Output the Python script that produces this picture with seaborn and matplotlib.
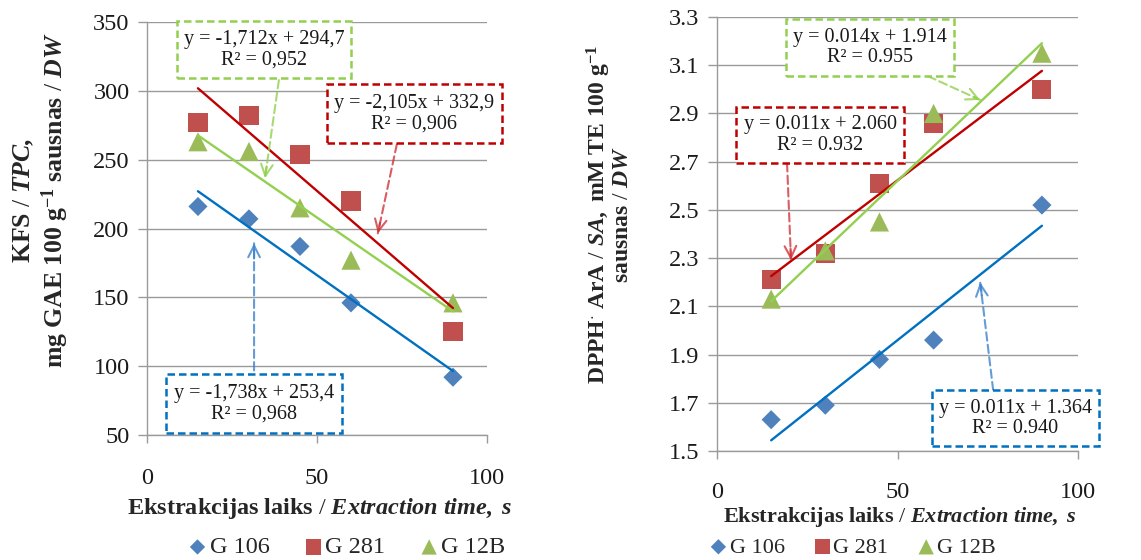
import numpy as np
import pandas as pd
import matplotlib
matplotlib.use("Agg")
import matplotlib.pyplot as plt
from matplotlib.patches import Rectangle
from matplotlib.ticker import FormatStrFormatter
import seaborn as sns

# ---------------- data ----------------
time_s = [15, 30, 45, 60, 90]
varieties = ["G 106", "G 281", "G 12B"]

tpc_g106 = [216, 207, 187, 146, 92]
tpc_g281 = [277, 282, 254, 220, 125]
tpc_g12b = [263, 256, 215, 177, 146]

dpph_g106 = [1.63, 1.69, 1.88, 1.96, 2.52]
dpph_g281 = [2.21, 2.32, 2.61, 2.86, 3.00]
dpph_g12b = [2.13, 2.33, 2.45, 2.90, 3.15]

tpc_eq = ["y = -1,738x + 253,4\nR² = 0,968",
          "y = -2,105x + 332,9\nR² = 0,906",
          "y = -1,712x + 294,7\nR² = 0,952"]
dpph_eq = ["y = 0.011x + 1.364\nR² = 0.940",
           "y = 0.011x + 2.060\nR² = 0.932",
           "y = 0.014x + 1.914\nR² = 0.955"]

tpc_yticks = [50, 100, 150, 200, 250, 300, 350]
dpph_yticks = [1.5, 1.7, 1.9, 2.1, 2.3, 2.5, 2.7, 2.9, 3.1, 3.3]
x_ticks = [0, 50, 100]

# ---------------- style ----------------
sns.set_theme(style="white")
plt.rcParams["font.family"] = ["Liberation Serif", "DejaVu Serif"]
plt.rcParams["mathtext.fontset"] = "custom"
plt.rcParams["mathtext.rm"] = "Liberation Serif"
plt.rcParams["mathtext.bf"] = "Liberation Serif:bold"
plt.rcParams["mathtext.it"] = "Liberation Serif:italic"
plt.rcParams["mathtext.bfit"] = "Liberation Serif:italic:bold"

marker_colors = {"G 106": "#4F81BD", "G 281": "#C0504D", "G 12B": "#9BBB59"}
line_colors = {"G 106": "#0070C0", "G 281": "#C00000", "G 12B": "#92D050"}
markers = {"G 106": "D", "G 281": "s", "G 12B": "^"}
msizes = {"G 106": 95, "G 281": 190, "G 12B": 190}


def long_df(vals):
    rows = []
    for v, ys in zip(varieties, vals):
        for t, y in zip(time_s, ys):
            rows.append({"time": t, "value": y, "variety": v})
    return pd.DataFrame(rows)


df_tpc = long_df([tpc_g106, tpc_g281, tpc_g12b])
df_dpph = long_df([dpph_g106, dpph_g281, dpph_g12b])

fig = plt.figure(figsize=(11.41, 5.6), dpi=100)
axL = fig.add_axes([0.1288, 0.2232, 0.2980, 0.7375])
axR = fig.add_axes([0.6284, 0.1946, 0.3164, 0.7750])

grid_col = "#9A9A9A"


def draw(ax, df, ylim, yticks, fmt, xpad):
    for v in varieties:
        sub = df[df["variety"] == v]
        sns.scatterplot(data=sub, x="time", y="value", marker=markers[v],
                        color=marker_colors[v], s=msizes[v], edgecolor="none",
                        linewidth=0, label=v, ax=ax, zorder=3)
    for v in varieties:
        sub = df[df["variety"] == v]
        sns.regplot(data=sub, x="time", y="value", scatter=False, ci=None,
                    truncate=True, color=line_colors[v],
                    line_kws=dict(lw=1.7, zorder=4), ax=ax)
    ax.set_xlim(0, 100)
    ax.set_ylim(*ylim)
    ax.set_xticks(x_ticks)
    ax.set_yticks(yticks)
    ax.yaxis.set_major_formatter(FormatStrFormatter(fmt))
    ax.grid(axis="y", color=grid_col, lw=1.0)
    ax.set_axisbelow(True)
    for s in ["top", "right"]:
        ax.spines[s].set_visible(False)
    for s in ["left", "bottom"]:
        ax.spines[s].set_color(grid_col)
        ax.spines[s].set_linewidth(1.0)
    ax.tick_params(axis="y", direction="out", length=6.5, width=1.0,
                   color=grid_col, left=True, pad=6, labelsize=17.5)
    ax.tick_params(axis="x", direction="out", length=6, width=1.0,
                   color=grid_col, bottom=True, pad=xpad, labelsize=17.5)
    for lbl in ax.get_xticklabels() + ax.get_yticklabels():
        lbl.set_color("#1a1a1a")


def box(ax, x0, x1, y0, y1, text, color, fs=14.5):
    ax.add_patch(Rectangle((x0, y0), x1 - x0, y1 - y0, fill=True,
                           facecolor="white", edgecolor=color, lw=1.8,
                           ls=(0, (3, 1.6)), clip_on=False, zorder=6))
    ax.text((x0 + x1) / 2, (y0 + y1) / 2, text, ha="center", va="center",
            fontsize=fs, color="#1a1a1a", linespacing=1.1, zorder=7,
            clip_on=False)


def arrow(ax, start, tip, color):
    ax.annotate("", xy=tip, xytext=start,
                arrowprops=dict(arrowstyle="-", color=color, lw=1.5,
                                ls=(0, (4, 2)), shrinkA=0, shrinkB=0,
                                alpha=0.8), zorder=5)
    dx = tip[0] - start[0]
    dy = tip[1] - start[1]
    pre = (tip[0] - dx * 0.12, tip[1] - dy * 0.12)
    ax.annotate("", xy=tip, xytext=pre,
                arrowprops=dict(arrowstyle="->,head_length=0.7,head_width=0.35",
                                color=color, lw=1.5, shrinkA=0, shrinkB=0,
                                alpha=0.8), zorder=5)


# ---------------- left panel ----------------
draw(axL, df_tpc, (50, 350), tpc_yticks, "%d", 18)
axL.set_xlabel(r"$\mathbf{Ekstrakcijas\ laiks}$ / $\mathbfit{Extraction\ time,\ s}$",
               fontsize=17.5)
axL.xaxis.set_label_coords(0.509, -0.148)
axL.set_ylabel(r"$\mathbf{KFS}$ / $\mathbfit{TPC,}$" + "\n" +
               r"$\mathbf{mg\ GAE\ 100\ g^{-1}\ sausnas}$ / $\mathbfit{DW}$",
               fontsize=18.5, linespacing=1.15)
axL.yaxis.set_label_coords(-0.222, 0.569)

box(axL, 8.8, 60.0, 309.3, 350.7, tpc_eq[2], line_colors["G 12B"])
box(axL, 52.9, 104.4, 262.0, 304.9, tpc_eq[1], line_colors["G 281"])
box(axL, 5.6, 57.4, 51.1, 94.0, tpc_eq[0], line_colors["G 106"])
arrow(axL, (38.8, 307.8), (34.7, 236.5), line_colors["G 12B"])
arrow(axL, (73.5, 261.3), (67.9, 196.5), "#D0343A")
arrow(axL, (31.5, 96.9), (31.5, 189.3), "#3E84CC")

axL.legend(loc="center", bbox_to_anchor=(0.58, -0.272), ncol=3, frameon=False,
           fontsize=17.5, handletextpad=-0.1, columnspacing=1.2,
           handlelength=1.2, markerscale=0.8)

# ---------------- right panel ----------------
draw(axR, df_dpph, (1.5, 3.3), dpph_yticks, "%.1f", 16)
axR.set_xlabel(r"$\mathbf{Ekstrakcijas\ laiks}$ / $\mathbfit{Extraction\ time,\ s}$",
               fontsize=16)
axR.xaxis.set_label_coords(0.507, -0.124)
axR.set_ylabel(r"$\mathbf{DPPH^{\cdot}\ ArA}$ / $\mathbfit{SA,}$$\mathbf{\ mM\ TE\ 100\ g^{-1}}$"
               + "\n" + r"$\mathbf{sausnas}$ / $\mathbfit{DW}$",
               fontsize=17, linespacing=0.95)
axR.yaxis.set_label_coords(-0.232, 0.546)

box(axR, 19.1, 65.7, 3.055, 3.292, dpph_eq[2], line_colors["G 12B"])
box(axR, 5.3, 51.8, 2.694, 2.927, dpph_eq[1], line_colors["G 281"])
box(axR, 59.6, 105.8, 1.520, 1.752, dpph_eq[0], line_colors["G 106"])
arrow(axR, (58.4, 3.055), (72.9, 2.956), line_colors["G 12B"])
arrow(axR, (19.4, 2.694), (20.5, 2.292), "#D0343A")
arrow(axR, (76.5, 1.752), (72.9, 2.20), "#3E84CC")

axR.legend(loc="center", bbox_to_anchor=(0.37, -0.222), ncol=3, frameon=False,
           fontsize=16, handletextpad=-0.1, columnspacing=1.1,
           handlelength=1.2, markerscale=0.8)

fig.savefig("out.png", dpi=100)
